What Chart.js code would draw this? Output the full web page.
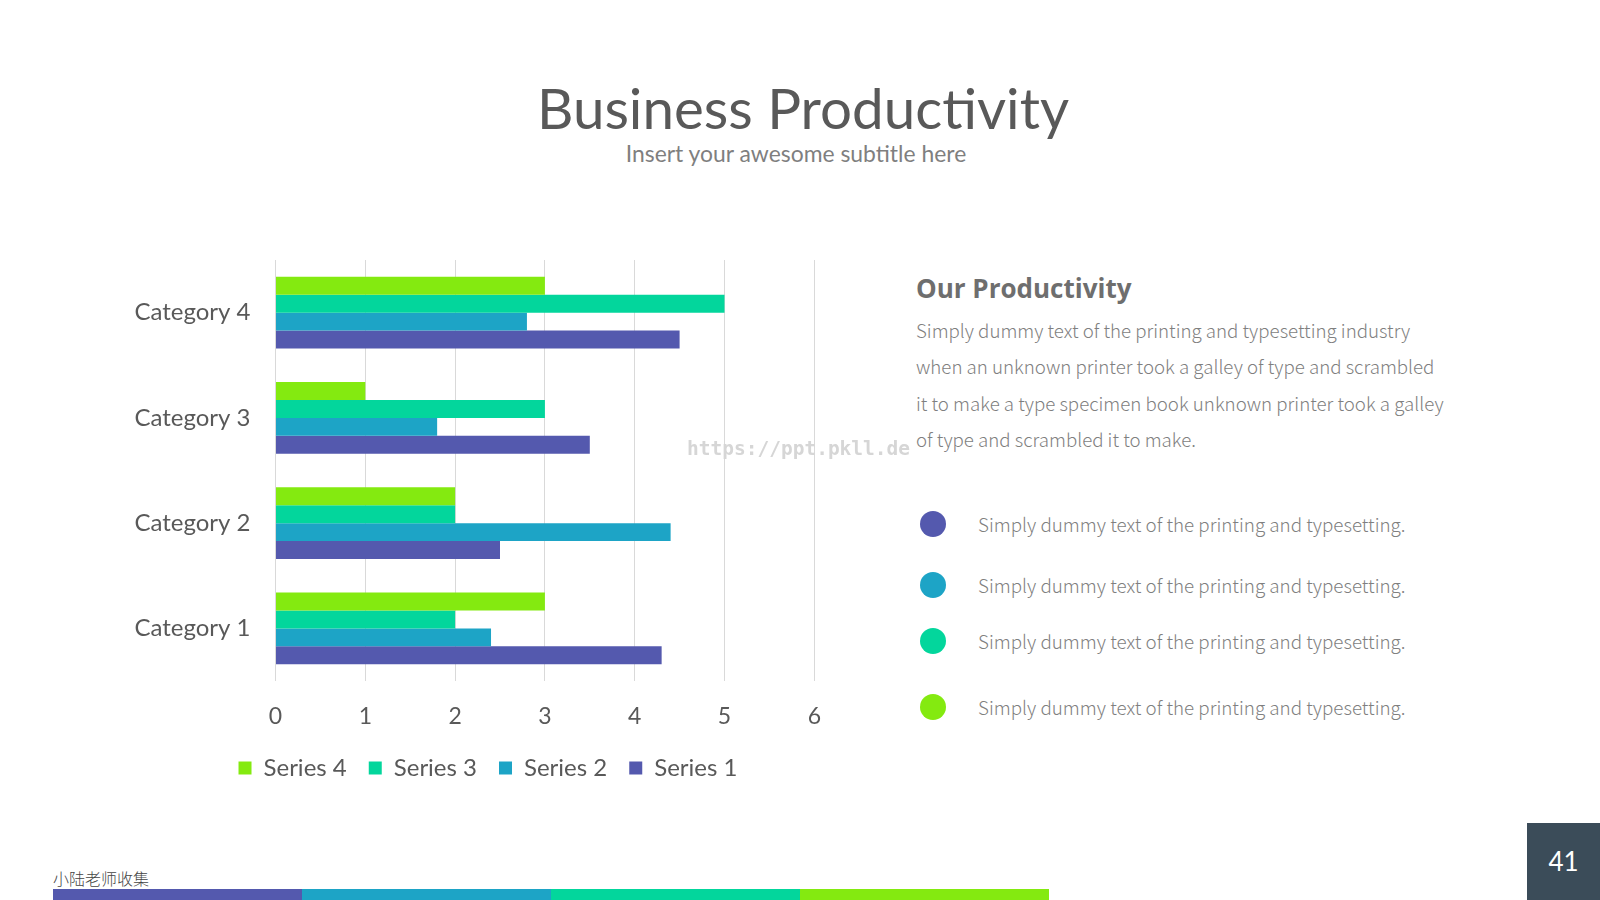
<!DOCTYPE html>
<html>
<head>
<meta charset="utf-8">
<script src="https://cdn.jsdelivr.net/npm/chart.js@4.4.1/dist/chart.umd.min.js"></script>
<style>
  html, body { margin: 0; padding: 0; background: #fff; }
  body { width: 1600px; height: 900px; position: relative; overflow: hidden; font-family: Lato, "Noto Sans", sans-serif; }
  .abs { position: absolute; white-space: nowrap; }
  #title { left: 0; width: 1606px; top: 74px; text-align: center; font-size: 56.5px; color: #595959; font-weight: 400; line-height: 66px; }
  #subtitle { left: 0; width: 1592px; top: 139px; text-align: center; font-size: 22.9px; color: #7f7f7f; line-height: 28px; }
  #chartBox { left: 100px; top: 250px; width: 776px; height: 560px; }
  #watermark { left: 687px; top: 437px; font-family: "DejaVu Sans Mono", monospace; font-weight: bold; font-size: 19.5px; color: #d6d6d6; }
  #sideHead { left: 916px; top: 270px; font-size: 26px; font-weight: bold; color: #6e6e6e; font-family: "Open Sans", sans-serif; }
  #sideText { left: 916px; top: 312px; font-size: 18.7px; line-height: 36.4px; color: #7f7f7f; font-family: "Noto Sans CJK SC", sans-serif; font-weight: 300; }
  .dot { position: absolute; width: 26px; height: 26px; border-radius: 50%; left: 920px; }
  .bullet { position: absolute; left: 978px; font-size: 18.8px; color: #7f7f7f; font-family: "Noto Sans CJK SC", sans-serif; font-weight: 300; white-space: nowrap; }
  #collector { left: 53px; top: 866px; font-size: 16px; color: #444; font-family: "Noto Sans CJK SC", sans-serif; font-weight: 300; }
  .stripe { position: absolute; top: 889px; height: 11px; width: 249px; }
  #pageBox { left: 1527px; top: 823px; width: 73px; height: 77px; background: #3b4c59; color: #fff; font-size: 26px; text-align: center; line-height: 77px; }
</style>
</head>
<body>
<div id="title" class="abs">Business Productivity</div>
<div id="subtitle" class="abs">Insert your awesome subtitle here</div>

<div id="chartBox" class="abs"><canvas id="barChart"></canvas></div>
<div id="watermark" class="abs">https://ppt.pkll.de</div>

<div id="sideHead" class="abs">Our Productivity</div>
<div id="sideText" class="abs">Simply dummy text of the printing and typesetting industry<br>when an unknown printer took a galley of type and scrambled<br>it to make a type specimen book unknown printer took a galley<br>of type and scrambled it to make.</div>

<div id="bullets"></div>

<div id="collector" class="abs">小陆老师收集</div>
<div id="stripes"></div>
<div id="pageBox" class="abs">41</div>

<script>
const categories = ['Category 1', 'Category 2', 'Category 3', 'Category 4'];
const seriesNames = ['Series 4', 'Series 3', 'Series 2', 'Series 1'];
const series4 = [3, 2, 1, 3];
const series3 = [2, 2, 3, 5];
const series2 = [2.4, 4.4, 1.8, 2.8];
const series1 = [4.3, 2.5, 3.5, 4.5];
const xTicks = [0, 1, 2, 3, 4, 5, 6];
const colors = ['#84ea10', '#03d69c', '#1da4c6', '#5459ae'];

const bulletText = 'Simply dummy text of the printing and typesetting.';
const bulletTops = [511, 572, 628, 694];
const bulletColors = ['#5459ae', '#1da4c6', '#03d69c', '#84ea10'];

const bulletsEl = document.getElementById('bullets');
bulletsEl.innerHTML = bulletTops.map((t, i) => `
  <div class="dot" style="top:${t}px;background:${bulletColors[i]}"></div>
  <div class="bullet" style="top:${t - 1}px">${bulletText}</div>
`).join('');

document.getElementById('stripes').innerHTML = colors.slice().reverse().map((c, i) =>
  `<div class="stripe" style="left:${53 + i * 249}px;background:${c}"></div>`).join('');

const seriesData = [series4, series3, series2, series1];

// fixed axis sizes so the plot lands where the slide has it
const noEdgePad = s => { s.paddingTop = 0; s.paddingBottom = 0; };

new Chart(document.getElementById('barChart'), {
  type: 'bar',
  data: {
    labels: categories,
    datasets: seriesNames.map((name, i) => ({
      label: name,
      data: seriesData[i],
      backgroundColor: colors[i],
      borderWidth: 0,
      categoryPercentage: 0.68,
      barPercentage: 1.0,
    }))
  },
  options: {
    indexAxis: 'y',
    responsive: true,
    maintainAspectRatio: false,
    animation: false,
    layout: { padding: { left: 0, right: 0, top: 10, bottom: 20 } },
    plugins: {
      tooltip: { enabled: false },
      legend: {
        position: 'bottom',
        labels: { boxWidth: 13, boxHeight: 13, padding: 22, color: '#595959', font: { family: 'Lato', size: 24 } }
      }
    },
    scales: {
      x: {
        min: 0, max: 6,
        afterBuildTicks: s => { s.ticks = xTicks.map(v => ({ value: v })); },
        afterFit: s => { s.height = 53; },
        grid: { color: '#d9d9d9', drawTicks: false },
        border: { display: false },
        ticks: { color: '#595959', padding: 22, font: { family: 'Lato', size: 23 } }
      },
      y: {
        reverse: true,
        afterFit: s => { s.width = 175.5; noEdgePad(s); },
        grid: { display: false },
        border: { display: false },
        ticks: { color: '#595959', padding: 17, font: { family: 'Lato', size: 24 } }
      },
      yRight: {
        type: 'category',
        position: 'right',
        labels: [],
        afterFit: s => { s.width = 61.7; noEdgePad(s); },
        grid: { display: false },
        border: { display: false },
        ticks: { display: false }
      }
    }
  }
});
</script>
</body>
</html>
